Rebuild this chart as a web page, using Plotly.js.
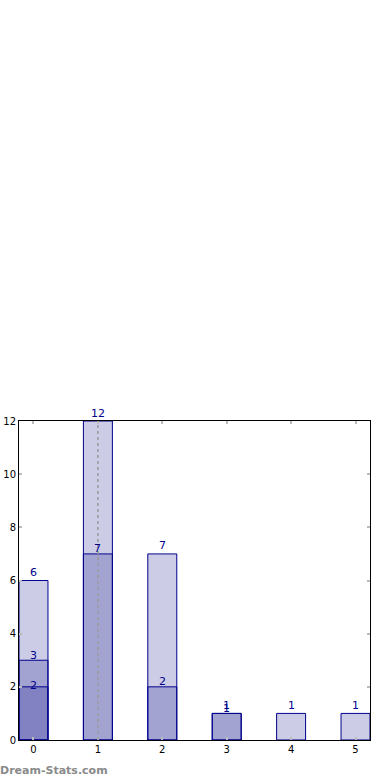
<!DOCTYPE html>
<html><head><meta charset="utf-8">
<script src="https://cdn.plot.ly/plotly-3.0.1.min.js"></script>
<style>html,body{margin:0;padding:0;background:#fff}#c{width:390px;height:780px}</style>
</head><body><div id="c"></div>
<script>
const categories = [0, 1, 2, 3, 4, 5];
const seriesA = [6, 12, 7, 1, 1, 1];
const seriesB = [3, 7, 2, 1, null, null];
const seriesC = [2, null, null, null, null, null];
const yTicks = [0, 2, 4, 6, 8, 10, 12];

const series = [seriesA, seriesB, seriesC];
const labelShift = [8, 5, 1];
const fill = 'rgba(0,0,128,0.2)';
const edge = 'rgb(0,0,140)';

const traces = series.map(vals => ({
  type: 'bar', x: categories, y: vals, width: 0.45,
  marker: {color: fill, line: {color: edge, width: 1}},
  hoverinfo: 'none'
}));

const annotations = [];
series.forEach((vals, si) => {
  vals.forEach((v, i) => {
    if (v === null) return;
    annotations.push({x: categories[i], y: v, xref: 'x', yref: 'y', text: String(v),
      showarrow: false, yanchor: 'middle', yshift: labelShift[si],
      font: {family: 'DejaVu Sans', size: 11, color: 'rgb(0,0,140)'}});
  });
});
annotations.push({xref: 'paper', yref: 'paper', x: 0, y: 0, xanchor: 'left', yanchor: 'middle',
  xshift: -21, yshift: -30, text: '<b>Dream-Stats.com</b>', showarrow: false,
  font: {family: 'DejaVu Sans', size: 11, color: '#8a8a8a'}});

const layout = {
  width: 390, height: 780,
  margin: {l: 19, r: 20, t: 421, b: 40},
  paper_bgcolor: '#fff', plot_bgcolor: '#fff',
  barmode: 'overlay', showlegend: false,
  font: {family: 'DejaVu Sans', size: 10, color: '#000'},
  xaxis: {range: [-0.225, 5.225], tickmode: 'array', tickvals: categories, ticktext: categories.map(String),
    showgrid: false, zeroline: false, showline: true, linecolor: '#000', linewidth: 1, mirror: 'all',
    ticks: 'inside', ticklen: 3, tickcolor: '#bbb', tickwidth: 2, tickfont: {size: 10}},
  yaxis: {range: [0, 12], tickmode: 'array', tickvals: yTicks, ticktext: yTicks.map(String),
    showgrid: false, zeroline: false, showline: true, linecolor: '#000', linewidth: 1, mirror: 'all',
    ticks: 'inside', ticklen: 3, tickcolor: '#bbb', tickwidth: 2, tickfont: {size: 10}},
  shapes: [{type: 'line', xref: 'x', yref: 'y', x0: 1, x1: 1, y0: 0, y1: 12,
    line: {color: '#999', width: 1.5, dash: 'dot'}, layer: 'above'}],
  annotations: annotations
};
Plotly.newPlot('c', traces, layout, {displayModeBar: false, staticPlot: true});
</script></body></html>
